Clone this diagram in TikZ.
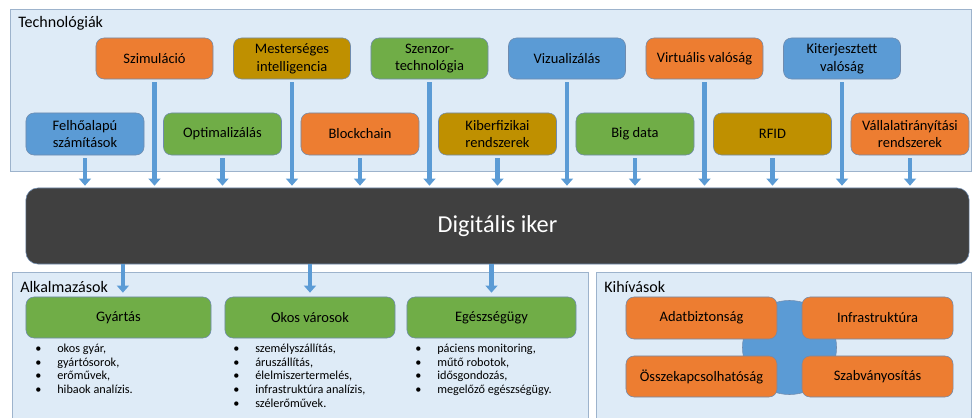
\documentclass[tikz,border=0pt]{standalone}
\usepackage{fontspec}
\setmainfont{Carlito}
\usetikzlibrary{arrows.meta,positioning}

\definecolor{narancs}{HTML}{ED7D31}
\definecolor{arany}{HTML}{BF9000}
\definecolor{zold}{HTML}{70AD47}
\definecolor{kek}{HTML}{5B9BD5}
\definecolor{keret}{HTML}{6F8BAE}
\definecolor{hatter}{HTML}{DEEBF7}
\definecolor{hatterkeret}{HTML}{9DB3CC}
\definecolor{sotet}{HTML}{404040}

% felsorolas a dobozok alatt
\newcommand{\pontok}[1]{\begin{tabular}[t]{@{}l@{}}#1\end{tabular}}
\newcommand{\elem}[1]{\makebox[0.55cm][l]{\textbullet}#1\\}

\tikzset{
	doboz/.style={draw=keret,fill=#1,rounded corners=0.2cm,align=center,text=black,font=\fontsize{10.3}{12.6}\selectfont,inner sep=1pt},
	panel/.style={draw=hatterkeret,fill=hatter,line width=0.6pt},
	cimke/.style={anchor=west,inner sep=0pt,font=\fontsize{11.4}{13}\selectfont},
	lista/.style={anchor=base west,inner sep=0pt,font=\fontsize{8.7}{9.75}\selectfont},
	nyil/.style={draw=kek,line width=0.12cm,-{Triangle[width=0.3cm,length=0.18cm]},shorten >=0.05cm}
}

\begin{document}
\begin{tikzpicture}[x=0.025cm,y=-0.025cm]
	\useasboundingbox (0,0) rectangle (972,418);
	
	% hatter panelek
	\draw[panel] (10,9) rectangle (971,171);
	\node[cimke] (tech) at (18,23) {Technológiák};
	\draw[panel] (12,272) rectangle (588,425);
	\node[cimke] (alk) at (20,287) {Alkalmazások};
	\draw[panel] (596,272) rectangle (971,425);
	\node[cimke] (kih) at (604,287) {Kihívások};
	
	% kozepso sav
	\node[draw=keret,fill=sotet,rounded corners=0.3cm,minimum width=23.575cm,minimum height=1.9cm,text=white,font=\fontsize{17.3}{20}\selectfont] (iker) at (497.5,226) {Digitális iker};
	
	% technologiak, felso sor
	\foreach \szoveg/\szin [count=\n] in 
		{Szimuláció/narancs,{Mesterséges\\intelligencia}/arany,{Szenzor-\\technológia}/zold,Vizualizálás/kek,Virtuális valóság/narancs,{Kiterjesztett\\valóság}/kek}
		\node[doboz=\szin,minimum width=2.925cm,minimum height=1.025cm] (F\n) at ({154.5+137.5*(\n-1)},58.5) {\szoveg};
	
	% technologiak, also sor
	\foreach \szoveg/\szin [count=\n] in 
		{{Felhőalapú\\számítások}/kek,Optimalizálás/zold,Blockchain/narancs,{Kiberfizikai\\rendszerek}/arany,Big data/zold,RFID/arany,{Vállalatirányítási\\rendszerek}/narancs}
		\node[doboz=\szin,minimum width=2.95cm,minimum height=1.05cm] (A\n) at ({85+137.5*(\n-1)},134) {\szoveg};
	
	\foreach \n in {1,...,6}
		\draw[nyil] ([yshift=-0.075cm]F\n.south) -- (F\n.south |- iker.north);
	\foreach \n in {1,...,7}
		\draw[nyil] ([yshift=-0.075cm]A\n.south) -- (A\n.south |- iker.north);
	
	% alkalmazasok
	\node[doboz=zold,minimum width=4.625cm,minimum height=1.025cm] (gyartas) at (118.5,317.5) {Gyártás};
	\node[doboz=zold,minimum width=4.25cm,minimum height=1.025cm] (okos) at (310,317.5) {Okos városok};
	\node[doboz=zold,minimum width=4.225cm,minimum height=1.025cm] (egeszseg) at (491.5,317.5) {Egészségügy};
	
	\draw[nyil,shorten >=0.1cm] ([xshift=0.11cm]iker.south -| gyartas.north) -- ([xshift=0.11cm]gyartas.north);
	\draw[nyil,shorten >=0.1cm] (iker.south -| okos.north) -- (okos.north);
	\draw[nyil,shorten >=0.1cm] (iker.south -| egeszseg.north) -- (egeszseg.north);
	
	\node[lista] (gyl) at (35,352.5) {\pontok{\elem{okos gyár,}\elem{gyártósorok,}\elem{erőművek,}\elem{hibaok analízis.}}};
	\node[lista] (okl) at (233,352.5) {\pontok{\elem{személyszállítás,}\elem{áruszállítás,}\elem{élelmiszertermelés,}\elem{infrastruktúra analízis,}\elem{szélerőművek.}}};
	\node[lista] (egl) at (415,352.5) {\pontok{\elem{páciens monitoring,}\elem{műtő robotok,}\elem{idősgondozás,}\elem{megelőző egészségügy.}}};
	
	% kihivasok
	\node[circle,draw=keret,fill=kek,minimum size=2.35cm] (kor) at (789.5,347.5) {};
	\node[doboz=narancs,minimum width=3.775cm,minimum height=1.05cm] (adat) at (701.5,318) {Adatbiztonság};
	\node[doboz=narancs,minimum width=3.775cm,minimum height=1.05cm] (infra) at (877.5,318) {Infrastruktúra};
	\node[doboz=narancs,minimum width=3.775cm,minimum height=1.025cm] (ossze) at (701.5,376.5) {Összekapcsolhatóság};
	\node[doboz=narancs,minimum width=3.775cm,minimum height=1.025cm] (szabv) at (877.5,376.5) {Szabványosítás};
\end{tikzpicture}
\end{document}
